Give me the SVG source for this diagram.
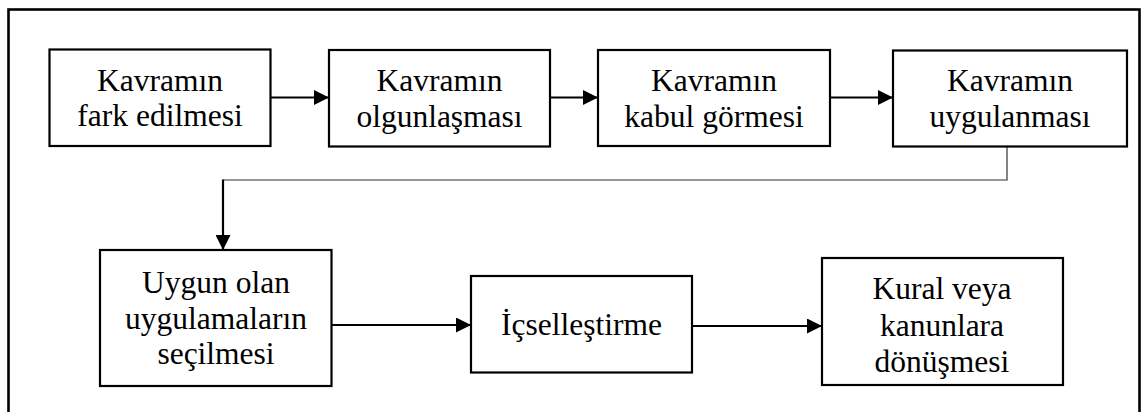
<svg xmlns="http://www.w3.org/2000/svg" width="1145" height="412" viewBox="0 0 1145 412">
<style>
.box{fill:#fff;stroke:#000;stroke-width:2.2}
.t{font-family:"Liberation Serif","Times New Roman",serif;font-size:31.5px;fill:#000;text-anchor:middle}
.c{fill:none;stroke:#000;stroke-width:2.2}
.thin{fill:none;stroke:#333;stroke-width:1.2}
</style>
<defs>
<marker id="ah" markerUnits="userSpaceOnUse" markerWidth="16" markerHeight="15" refX="15" refY="7.5" orient="auto">
<path d="M0,0 L15,7.5 L0,15 z" fill="#000"/>
</marker>
</defs>
<rect x="0" y="0" width="1145" height="412" fill="#fff"/>
<rect x="8.5" y="9.5" width="1131" height="420" fill="none" stroke="#000" stroke-width="2.6"/>
<g id="connectors">
<line class="c" x1="271" y1="97.5" x2="329" y2="97.5" marker-end="url(#ah)"/>
<line class="c" x1="550" y1="97.5" x2="598" y2="97.5" marker-end="url(#ah)"/>
<line class="c" x1="830" y1="97.5" x2="893" y2="97.5" marker-end="url(#ah)"/>
<polyline class="thin" points="1007,147 1007,180 223,180"/>
<line class="c" x1="223" y1="179.5" x2="223" y2="250" marker-end="url(#ah)"/>
<line class="c" x1="332" y1="325" x2="471" y2="325" marker-end="url(#ah)"/>
<line class="c" x1="692" y1="326" x2="822" y2="326" marker-end="url(#ah)"/>
</g>
<g id="n1">
<rect class="box" x="49.5" y="49.5" width="221" height="96.5"/>
<text class="t"><tspan x="160" y="90.7">Kavramın</tspan><tspan x="160" y="126">fark edilmesi</tspan></text>
</g>
<g id="n2">
<rect class="box" x="329" y="50" width="221" height="96.5"/>
<text class="t"><tspan x="439.5" y="91">Kavramın</tspan><tspan x="439.5" y="126.5">olgunlaşması</tspan></text>
</g>
<g id="n3">
<rect class="box" x="598" y="50" width="232" height="96"/>
<text class="t"><tspan x="714" y="91">Kavramın</tspan><tspan x="714" y="126.5">kabul görmesi</tspan></text>
</g>
<g id="n4">
<rect class="box" x="893" y="50.5" width="234" height="96"/>
<text class="t"><tspan x="1010" y="91">Kavramın</tspan><tspan x="1010" y="126.5">uygulanması</tspan></text>
</g>
<g id="n5">
<rect class="box" x="100" y="250" width="231.5" height="136"/>
<text class="t"><tspan x="216" y="293">Uygun olan</tspan><tspan x="216" y="329">uygulamaların</tspan><tspan x="216" y="364">seçilmesi</tspan></text>
</g>
<g id="n6">
<rect class="box" x="471" y="276" width="221" height="96.5"/>
<text class="t"><tspan x="581.5" y="335">İçselleştirme</tspan></text>
</g>
<g id="n7">
<rect class="box" x="822" y="258" width="241" height="127"/>
<text class="t"><tspan x="942" y="298.5">Kural veya</tspan><tspan x="942" y="335.5">kanunlara</tspan><tspan x="942" y="371.5">dönüşmesi</tspan></text>
</g>
</svg>
